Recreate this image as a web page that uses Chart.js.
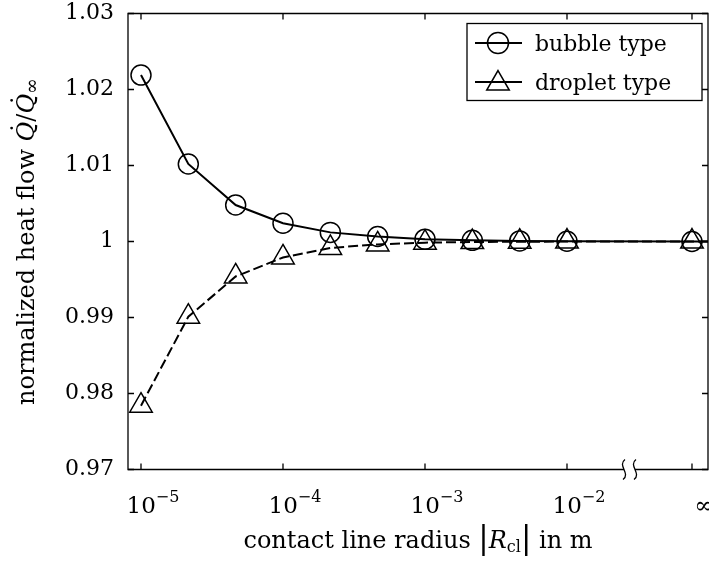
<!DOCTYPE html>
<html><head><meta charset="utf-8">
<script src="https://cdn.jsdelivr.net/npm/chart.js@4.4.1/dist/chart.umd.min.js"></script>
<style>html,body{margin:0;padding:0;background:#fff;overflow:hidden}canvas{display:block}</style>
</head><body>
<canvas id="c" width="709" height="563"></canvas>
<script>
// ---- data ----
const contactLineRadius = [1e-5, 2.154e-5, 4.642e-5, 1e-4, 2.154e-4, 4.642e-4, 1e-3, 2.154e-3, 4.642e-3, 1e-2, '∞'];
const bubbleType  = [1.0219, 1.0102, 1.0048, 1.0024, 1.0012, 1.00066, 1.0003, 1.00015, 1.00007, 1.00003, 1.0];
const dropletType = [0.9784, 0.9901, 0.9954, 0.9979, 0.99915, 0.99962, 0.99985, 0.99993, 0.99997, 0.99999, 1.0];
const seriesLabels = ['bubble type', 'droplet type'];
const xTickValues = [1e-5, 1e-4, 1e-3, 1e-2, '∞'];
const yTickValues = [0.97, 0.98, 0.99, 1.00, 1.01, 1.02, 1.03];
const yTickLabels = ['0.97', '0.98', '0.99', '1', '1.01', '1.02', '1.03'];

// ---- broken log axis: where "∞" sits after the break ----
const X_MIN = 8.1e-6, X_MAX = 0.0984, INF_POS = 0.0759;
const toAxis = v => (v === '∞' ? INF_POS : v);
const F = 'DejaVu Serif';

function toPoints(vals) {
  const pts = contactLineRadius.map((r, i) => ({ x: toAxis(r), y: vals[i] }));
  pts.push({ x: X_MAX, y: vals[vals.length - 1] }); // line continues to the frame edge
  return pts;
}
function radii(r) { return contactLineRadius.map(() => r).concat([0]); }

function drawRuns(ctx, runs, cx, baseline) {
  let total = 0;
  runs.forEach(r => { ctx.font = r.font; r.w = ctx.measureText(r.t).width; total += r.w; });
  let x = cx - total / 2;
  ctx.textAlign = 'left'; ctx.textBaseline = 'alphabetic';
  runs.forEach(r => {
    ctx.font = r.font;
    ctx.fillText(r.t, x, baseline + (r.dy || 0));
    if (r.dot) {
      ctx.font = `24px "${F}"`;
      ctx.fillText('˙', x + r.w * 0.38, baseline - 5);
    }
    x += r.w;
  });
}

const frame = {
  id: 'frame',
  afterDraw(chart) {
    const { ctx, chartArea: a, scales: { x, y } } = chart;
    ctx.save();
    ctx.strokeStyle = '#000'; ctx.fillStyle = '#000'; ctx.lineWidth = 1.3;
    const x2 = x.getPixelForValue(1e-2), xi = x.getPixelForValue(INF_POS);
    const bx = (x2 + xi) / 2;
    // frame with gap for the axis break
    ctx.beginPath();
    ctx.moveTo(bx - 5.5, a.bottom); ctx.lineTo(a.left, a.bottom); ctx.lineTo(a.left, a.top);
    ctx.lineTo(a.right, a.top); ctx.lineTo(a.right, a.bottom); ctx.lineTo(bx + 5.5, a.bottom);
    ctx.stroke();
    for (const dx of [-5.5, 5.5]) {
      ctx.beginPath();
      ctx.moveTo(bx + dx + 1, a.bottom - 10);
      ctx.bezierCurveTo(bx + dx - 7, a.bottom - 4, bx + dx + 7, a.bottom + 4, bx + dx - 1, a.bottom + 10);
      ctx.stroke();
    }
    // inward ticks on all four sides
    ctx.beginPath();
    x.ticks.forEach(t => {
      const p = x.getPixelForValue(t.value);
      ctx.moveTo(p, a.bottom); ctx.lineTo(p, a.bottom - 6);
      ctx.moveTo(p, a.top); ctx.lineTo(p, a.top + 6);
    });
    y.ticks.forEach(t => {
      const p = y.getPixelForValue(t.value);
      ctx.moveTo(a.left, p); ctx.lineTo(a.left + 6, p);
      ctx.moveTo(a.right, p); ctx.lineTo(a.right - 6, p);
    });
    ctx.stroke();
    // x tick labels (10^n and ∞)
    xTickValues.forEach(v => {
      const p = x.getPixelForValue(toAxis(v)) + 12;
      if (v === '∞') {
        drawRuns(ctx, [{ t: '∞', font: `23px "${F}"` }], p, a.bottom + 43);
      } else {
        const e = Math.round(Math.log10(v));
        drawRuns(ctx, [{ t: '10', font: `23px "${F}"` }, { t: (e < 0 ? '−' : '') + Math.abs(e), font: `16px "${F}"`, dy: -11 }], p, a.bottom + 43);
      }
    });
    // x title
    drawRuns(ctx, [
      { t: 'contact line radius ', font: `24px "${F}"` },
      { t: '|', font: `31px "${F}"` },
      { t: 'R', font: `italic 24px "${F}"` },
      { t: 'cl', font: `16px "${F}"`, dy: 4 },
      { t: '|', font: `31px "${F}"` },
      { t: ' in m', font: `24px "${F}"` }
    ], (a.left + a.right) / 2, 548);
    // y title (rotated)
    ctx.save();
    ctx.translate(34, (a.top + a.bottom) / 2);
    ctx.rotate(-Math.PI / 2);
    drawRuns(ctx, [
      { t: 'normalized heat flow ', font: `24px "${F}"` },
      { t: 'Q', font: `italic 24px "${F}"`, dot: true },
      { t: '/', font: `24px "${F}"` },
      { t: 'Q', font: `italic 24px "${F}"`, dot: true },
      { t: '∞', font: `19px "${F}"`, dy: 4 }
    ], 0, 0);
    ctx.restore();
    // legend
    const L = { l: 467, t: 23.5, r: 702, b: 100.5 };
    ctx.lineWidth = 1.3;
    ctx.fillStyle = '#fff';
    ctx.fillRect(L.l, L.t, L.r - L.l, L.b - L.t);
    ctx.strokeRect(L.l, L.t, L.r - L.l, L.b - L.t);
    const rows = [43, 82];
    chart.data.datasets.forEach((ds, i) => {
      const yy = rows[i];
      ctx.lineWidth = ds.borderWidth;
      ctx.beginPath(); ctx.moveTo(475, yy); ctx.lineTo(522, yy); ctx.stroke();
      ctx.lineWidth = ds.pointBorderWidth;
      ctx.fillStyle = 'rgba(0,0,0,0)';
      Chart.helpers.drawPoint(ctx, { pointStyle: ds.pointStyle, radius: ds.pointStyle === 'circle' ? 10.5 : 13, borderWidth: ds.pointBorderWidth, rotation: 0 }, 498, yy + (i ? 1.5 : 0));
      ctx.fillStyle = '#000';
      ctx.font = `22px "${F}"`; ctx.textAlign = 'left'; ctx.textBaseline = 'alphabetic';
      ctx.fillText(ds.label, 535, yy + 8);
    });
    ctx.restore();
  }
};

new Chart(document.getElementById('c'), {
  type: 'line',
  data: {
    datasets: [
      { label: seriesLabels[0], data: toPoints(bubbleType), borderColor: '#000', borderWidth: 2,
        pointStyle: 'circle', pointRadius: radii(10), pointBorderWidth: 1.5, pointBorderColor: '#000',
        pointBackgroundColor: 'rgba(0,0,0,0)', tension: 0, fill: false },
      { label: seriesLabels[1], data: toPoints(dropletType), borderColor: '#000', borderWidth: 2, borderDash: [10, 4],
        pointStyle: 'triangle', pointRadius: radii(13), pointBorderWidth: 1.5, pointBorderColor: '#000',
        pointBackgroundColor: 'rgba(0,0,0,0)', tension: 0, fill: false }
    ]
  },
  options: {
    responsive: false, animation: false, devicePixelRatio: 1,
    layout: { autoPadding: false, padding: { top: 13.5, right: 1, left: 0, bottom: 0 } },
    plugins: { legend: { display: false }, tooltip: { enabled: false } },
    scales: {
      x: { type: 'logarithmic', min: X_MIN, max: X_MAX,
           grid: { display: false, drawTicks: false }, border: { display: false }, ticks: { display: false },
           afterBuildTicks: s => { s.ticks = xTickValues.map(v => ({ value: toAxis(v) })); },
           afterFit: s => { s.height = 93.5; s.paddingLeft = 0; s.paddingRight = 0; s.paddingTop = 0; s.paddingBottom = 0; } },
      y: { type: 'linear', min: 0.97, max: 1.03,
           grid: { display: false, drawTicks: false }, border: { display: false },
           ticks: { font: { family: F, size: 22 }, color: '#000', padding: 14, callback: (v, i) => yTickLabels[i] },
           afterBuildTicks: s => { s.ticks = yTickValues.map(v => ({ value: v })); },
           afterFit: s => { s.width = 128; s.paddingLeft = 0; s.paddingRight = 0; s.paddingTop = 0; s.paddingBottom = 0; } }
    }
  },
  plugins: [frame]
});
</script>
</body></html>
